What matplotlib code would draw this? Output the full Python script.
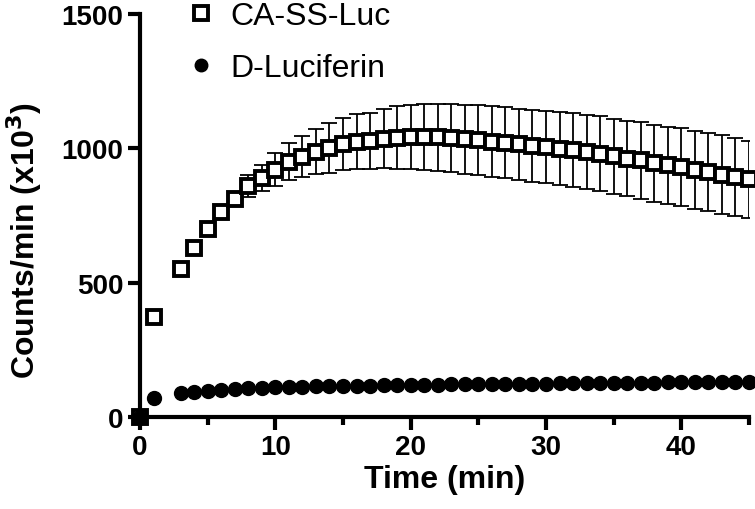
import numpy as np
import matplotlib.pyplot as plt

plt.rcParams['font.family'] = ['Liberation Sans', 'DejaVu Sans']

# time points (min); no reading at t=2
time = [0, 1] + list(range(3, 46))

ca_ss_luc = [0, 373, 552, 629, 701, 763, 813, 859, 891, 921, 950, 969, 987, 1002,
             1016, 1025, 1027, 1035, 1040, 1042, 1043, 1041, 1038, 1034, 1030, 1025,
             1020, 1015, 1010, 1005, 999, 993, 987, 980, 970, 962, 955, 945, 937,
             929, 920, 911, 902, 893, 885]
ca_ss_luc_err = [0, 5, 8, 10, 12, 18, 25, 41, 48, 60, 68, 77, 84, 92, 96, 102, 105,
                 110, 116, 120, 122, 124, 126, 128, 130, 131, 132, 133, 134, 135,
                 136, 137, 138, 139, 140, 141, 142, 143, 144, 145, 146, 146, 146,
                 145, 144]
d_luciferin = [0, 70, 88, 94, 98, 102, 105, 107, 109, 111, 112, 113, 114, 115, 116,
               117, 117, 118, 119, 119, 120, 120, 121, 121, 122, 122, 123, 123, 124,
               124, 125, 125, 126, 126, 127, 127, 128, 128, 129, 129, 130, 130, 131,
               131, 132]

fig = plt.figure(figsize=(7.55, 5.1), dpi=100)
ax = fig.add_axes([140/755, 92/510, 609/755, 403/510])

ax.errorbar(time, ca_ss_luc, yerr=ca_ss_luc_err, fmt='none', ecolor='black',
            elinewidth=1.3, capsize=6, capthick=1.3, zorder=2)
ax.plot(time, ca_ss_luc, 's', ms=10.5, mfc='white', mec='black', mew=2.8,
        clip_on=False, zorder=4, label='CA-SS-Luc')
ax.plot(time, d_luciferin, 'o', ms=10, color='black', clip_on=False,
        zorder=4, label='D-Luciferin')

ax.set_xlim(0, 45)
ax.set_ylim(0, 1500)
ax.set_xticks(range(0, 41, 10))
ax.set_xticks(range(5, 46, 10), minor=True)
ax.set_yticks([0, 500, 1000, 1500])

for s in ['top', 'right']:
    ax.spines[s].set_visible(False)
for s in ['left', 'bottom']:
    ax.spines[s].set_linewidth(3)

ax.tick_params(which='major', length=9, width=3, labelsize=20, pad=3)
ax.tick_params(which='minor', length=6, width=3)
for lab in ax.get_xticklabels() + ax.get_yticklabels():
    lab.set_fontweight('bold')

ax.set_xlabel('Time (min)', fontsize=23, fontweight='bold', labelpad=3)
ax.set_ylabel('Counts/min (x10$^\\mathbf{3}$)', fontsize=23, fontweight='bold')
ax.yaxis.set_label_coords(-0.158, 0.44)

ax.legend(loc='upper left', bbox_to_anchor=(190/755, 1.0 - 2/510),
          bbox_transform=fig.transFigure, frameon=False, fontsize=23,
          handlelength=0.7, handletextpad=0.55, labelspacing=0.7,
          borderpad=0, borderaxespad=0, markerscale=0.9)

plt.savefig('out.png', dpi=100)
